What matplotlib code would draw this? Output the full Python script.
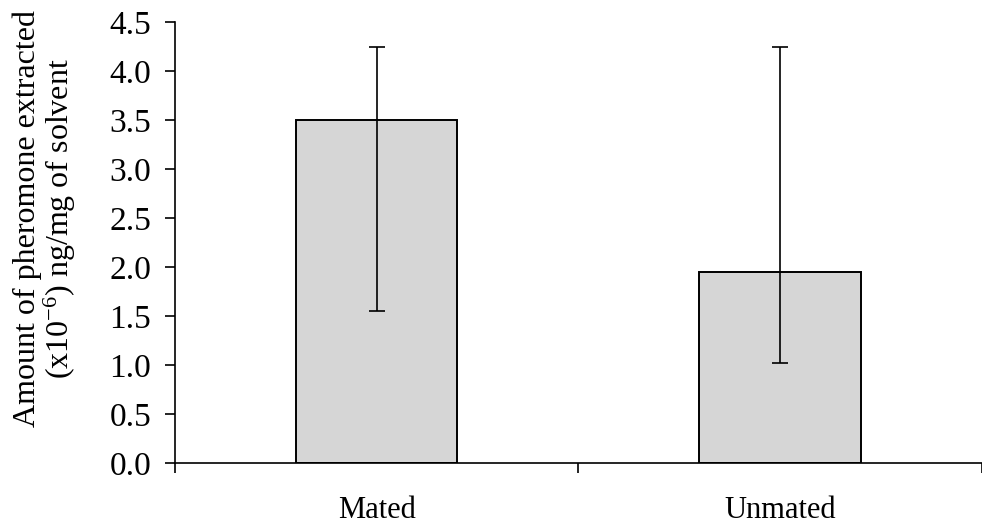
import numpy as np
import matplotlib.pyplot as plt

plt.rcParams["font.family"] = ["Liberation Serif", "DejaVu Serif"]
plt.rcParams["mathtext.fontset"] = "custom"
plt.rcParams["mathtext.rm"] = "Liberation Serif"
plt.rcParams["mathtext.it"] = "Liberation Serif:italic"

# data
categories = ["Mated", "Unmated"]
means = [3.50, 1.95]
err_low = [1.55, 1.02]
err_high = [4.25, 4.25]
yticks = [0.0, 0.5, 1.0, 1.5, 2.0, 2.5, 3.0, 3.5, 4.0, 4.5]

means = np.array(means)
yerr = np.array([means - np.array(err_low), np.array(err_high) - means])
xpos = np.arange(len(categories)) + 0.5

fig = plt.figure(figsize=(9.82, 5.28), dpi=100)
ax = fig.add_axes([0.178, 0.123, 0.822, 0.835])

ax.bar(xpos, means, width=0.4, color="#d6d6d6", edgecolor="black", linewidth=1.4,
       zorder=2)
ax.errorbar(xpos, means, yerr=yerr, fmt="none", ecolor="black", elinewidth=1.2,
            capsize=6, capthick=1.2, zorder=3)

ax.set_xlim(0, 2)
ax.set_ylim(0, 4.5)
ax.set_yticks(yticks)
ax.set_yticklabels(["%.1f" % v for v in yticks], fontsize=24)
ax.set_xticks(xpos)
ax.set_xticklabels(categories, fontsize=22)
ax.set_xticks([0, 1, 2], minor=True)
ax.tick_params(axis="x", which="major", length=0, pad=24)
ax.tick_params(axis="x", which="minor", direction="out", length=7, width=1.2)
ax.tick_params(axis="y", direction="out", length=7, width=1.2, pad=10)

ax.spines["top"].set_visible(False)
ax.spines["right"].set_visible(False)
ax.spines["left"].set_linewidth(1.2)
ax.spines["bottom"].set_linewidth(1.2)

ax.set_ylabel("Amount of pheromone extracted\n(x10$^{-6}$) ng/mg of solvent",
              fontsize=23, linespacing=1.0)
ax.yaxis.set_label_coords(-0.12, 0.555)

fig.savefig("out.png", dpi=100)
